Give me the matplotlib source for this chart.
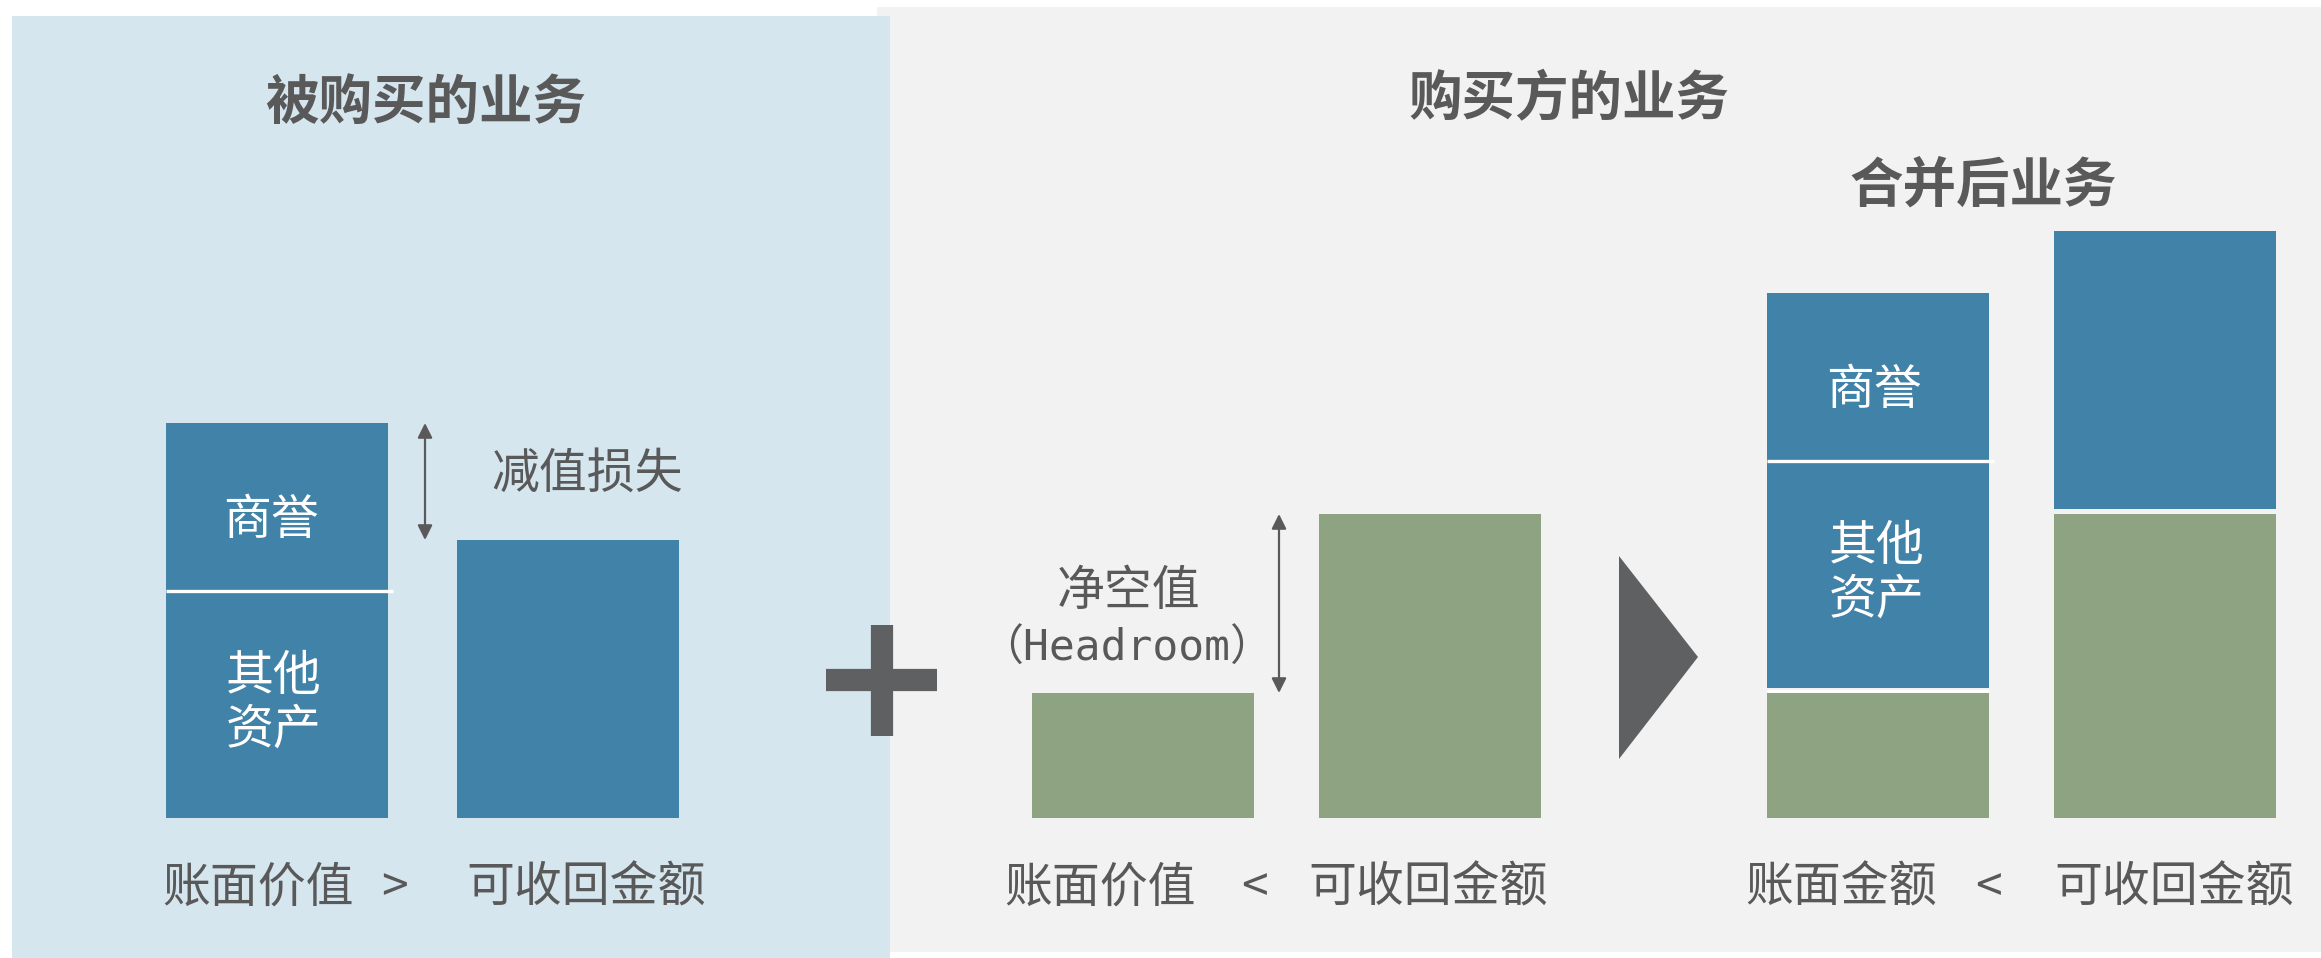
import matplotlib
matplotlib.use("Agg")
import matplotlib.pyplot as plt
from matplotlib.patches import Rectangle, Polygon

plt.rcParams['font.family'] = ['Noto Sans CJK SC', 'DejaVu Sans']

# ---- data (relative amounts) ----
acquired_other_assets = 45.4
acquired_goodwill = 33.6
acquired_recoverable = 55.6
acquirer_carrying = 25.0
acquirer_recoverable = 60.8

titles = ["被购买的业务", "购买方的业务", "合并后业务"]
bottom_labels_left = ["账面价值", ">", "可收回金额"]
bottom_labels_mid = ["账面价值", "<", "可收回金额"]
bottom_labels_right = ["账面金额", "<", "可收回金额"]
seg_goodwill = "商誉"
seg_other = "其他\n资产"
impairment_label = "减值损失"
headroom_label = ["净空值", "（Headroom）"]

# ---- layout ----
W, H = 2321, 958
S = 5.0          # px per unit
BASE = 818       # baseline pixel row
BW = 222         # bar width (px)
GAP = 1.0        # gap between stacked parts in combined bars (units)

BLUE = "#4082A8"
GREEN = "#8EA382"
DARK = "#5F6062"
TXT = "#595959"
PANEL_BLUE = "#D6E6EF"
PANEL_GRAY = "#F2F2F2"

fig = plt.figure(figsize=(W / 100, H / 100), dpi=100)
ax = fig.add_axes([0, 0, 1, 1])
ax.set_xlim(0, W)
ax.set_ylim(-(H - BASE) / S, BASE / S)
ax.axis('off')


def Y(px):
    return (BASE - px) / S


# panels
ax.add_patch(Rectangle((877, Y(952)), W - 877, (952 - 7) / S, color=PANEL_GRAY, lw=0, zorder=0))
ax.add_patch(Rectangle((12, Y(958)), 890 - 12, (958 - 16) / S, color=PANEL_BLUE, lw=0, zorder=1))

# bar centres
xl1, xl2 = 277, 568
xm1, xm2 = 1143, 1430
xr1, xr2 = 1878, 2165

# left group: acquired business
ax.bar(xl1, acquired_other_assets, BW, color=BLUE, zorder=3)
ax.bar(xl1, acquired_goodwill, BW, bottom=acquired_other_assets, color=BLUE, zorder=3)
ax.hlines(acquired_other_assets, xl1 - BW / 2, xl1 + BW / 2 + 5, color="white", lw=2.4, zorder=4)
ax.bar(xl2, acquired_recoverable, BW, color=BLUE, zorder=3)

# middle group: acquirer
ax.bar(xm1, acquirer_carrying, BW, color=GREEN, zorder=3)
ax.bar(xm2, acquirer_recoverable, BW, color=GREEN, zorder=3)

# right group: combined
ax.bar(xr1, acquirer_carrying, BW, color=GREEN, zorder=3)
b1 = acquirer_carrying + GAP
ax.bar(xr1, acquired_other_assets, BW, bottom=b1, color=BLUE, zorder=3)
ax.bar(xr1, acquired_goodwill, BW, bottom=b1 + acquired_other_assets, color=BLUE, zorder=3)
ax.hlines(b1 + acquired_other_assets, xr1 - BW / 2, xr1 + BW / 2 + 5, color="white", lw=2.4, zorder=4)
ax.hlines(acquirer_carrying + GAP / 2, xr1 - BW / 2, xr1 + BW / 2, color="white", lw=2.4, zorder=2)
ax.bar(xr2, acquirer_recoverable, BW, color=GREEN, zorder=3)
ax.bar(xr2, acquired_recoverable, BW, bottom=acquirer_recoverable + GAP, color=BLUE, zorder=3)

# double arrows
arrow = dict(arrowstyle="<|-|>", color=TXT, lw=1.6, mutation_scale=22, shrinkA=0, shrinkB=0)
ax.annotate("", xy=(425, acquired_other_assets + acquired_goodwill),
            xytext=(425, acquired_recoverable), arrowprops=arrow, zorder=5)
ax.annotate("", xy=(1279, acquirer_recoverable),
            xytext=(1279, acquirer_carrying), arrowprops=arrow, zorder=5)

# plus sign
ax.plot([826, 937], [Y(680), Y(680)], color=DARK, lw=16, solid_capstyle='butt', zorder=6)
ax.plot([882, 882], [Y(625), Y(736)], color=DARK, lw=16, solid_capstyle='butt', zorder=6)

# triangle
ax.add_patch(Polygon([(1619, Y(556)), (1619, Y(759)), (1698, Y(657))], closed=True,
                     color=DARK, lw=0, zorder=6))

# titles
tfs = 38.5
ax.text(426, Y(103), titles[0], ha='center', va='center', fontsize=tfs, fontweight='bold', color=TXT, zorder=7)
ax.text(1569, Y(100), titles[1], ha='center', va='center', fontsize=tfs, fontweight='bold', color=TXT, zorder=7)
ax.text(1983, Y(186), titles[2], ha='center', va='center', fontsize=tfs, fontweight='bold', color=TXT, zorder=7)

# in-bar labels
fs = 34.5
ax.text(xl1 - 6, Y(520), seg_goodwill, ha='center', va='center', fontsize=fs, color='white', zorder=7)
ax.text(xl1 - 3, Y(703), seg_other, ha='center', va='center', fontsize=fs, color='white',
        linespacing=1.1, zorder=7)
ax.text(xr1 - 4, Y(390), seg_goodwill, ha='center', va='center', fontsize=fs, color='white', zorder=7)
ax.text(xr1 - 1, Y(573), seg_other, ha='center', va='center', fontsize=fs, color='white',
        linespacing=1.1, zorder=7)

# annotations
ax.text(587, Y(474), impairment_label, ha='center', va='center', fontsize=fs, color=TXT, zorder=7)
ax.text(1129, Y(591), headroom_label[0], ha='center', va='center', fontsize=fs, color=TXT, zorder=7)
ax.text(1127, Y(649), headroom_label[1], ha='center', va='center', fontsize=31, color=TXT,
        family=['DejaVu Sans Mono', 'Noto Sans CJK SC'], zorder=7)

# bottom labels
yb = Y(888)
for (xs, labels) in [((258, 394, 586), bottom_labels_left),
                     ((1100, 1254, 1428), bottom_labels_mid),
                     ((1841, 1988, 2174), bottom_labels_right)]:
    for xx, lab in zip(xs, labels):
        ax.text(xx, yb, lab, ha='center', va='center', fontsize=fs, color=TXT, zorder=7)

fig.savefig("out.png", dpi=100)
